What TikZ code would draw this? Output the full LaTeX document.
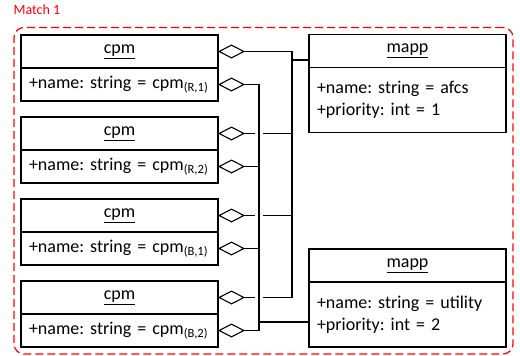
\documentclass[tikz,border=0pt]{standalone}
\usepackage{fontspec}
\setmainfont{Carlito}
\usetikzlibrary{positioning,arrows.meta,fit}
\frenchspacing

\begin{document}
\begin{tikzpicture}[x=1pt, y=-1pt, font=\fontsize{18}{22}\selectfont, node distance=16pt,
  ttl/.style={draw, line width=1.1pt, outer sep=0pt, inner sep=0pt, minimum width=197pt, minimum height=33pt},
  attr/.style={draw, line width=1.1pt, outer sep=0pt, inner xsep=8pt, inner ysep=0pt, text width=181pt, minimum height=33pt, align=left},
  agg/.style={{Diamond[open, length=27pt, width=14pt]}-, line width=1.1pt},
  agg2/.style={{Diamond[open, length=27pt, width=14pt]}-{Diamond[open, length=27pt, width=14pt]}, line width=1.1pt},
  wire/.style={line width=1.1pt},
  hop/.style={draw=white, line width=8pt},
  lbl/.style={text=red, font=\fontsize{14}{16}\selectfont}]
\useasboundingbox (0,0) rectangle (520,356);
% component boxes
\node[ttl] (c1t) at (119.5,51.5) {\underline{cpm}};
\node[attr, below=0pt of c1t] (c1a) {+name: string = cpm\textsubscript{(R,1)}};
\node[ttl, below=of c1a] (c2t) {\underline{cpm}};
\node[attr, below=0pt of c2t] (c2a) {+name: string = cpm\textsubscript{(R,2)}};
\node[ttl, below=of c2a] (c3t) {\underline{cpm}};
\node[attr, below=0pt of c3t] (c3a) {+name: string = cpm\textsubscript{(B,1)}};
\node[ttl, below=of c3a] (c4t) {\underline{cpm}};
\node[attr, below=0pt of c4t] (c4a) {+name: string = cpm\textsubscript{(B,2)}};
% mappings
\node[ttl] (m1t) at (407.5,51) {\underline{mapp}};
\node[attr, below=0pt of m1t, minimum height=65pt] (m1a) {+name: string = afcs\\+priority: int = 1};
\node[ttl] (m2t) at (407.5,265.5) {\underline{mapp}};
\node[attr, below=0pt of m2t, minimum height=65pt] (m2a) {+name: string = utility\\+priority: int = 2};
\coordinate (j1) at (292,60);
\coordinate (j2) at (259,322);
% title rows to first bus
\draw[agg2] (c1t.east) -- (c1t.east -| j1) -- (c4t.east -| j1) -- (c4t.east);
\draw[agg] (c2t.east) -- (c2t.east -| j1);
\draw[agg] (c3t.east) -- (c3t.east -| j1);
% attribute rows to second bus, with hops
\path[hop] (c1a.east -| j2) -- (c4a.east -| j2);
\draw[agg2] (c1a.east) -- (c1a.east -| j2) -- (c4a.east -| j2) -- (c4a.east);
\draw[agg] (c2a.east) -- (c2a.east -| j2);
\draw[agg] (c3a.east) -- (c3a.east -| j2);
\draw[wire] (j1) -- (j1 -| m1t.west);
\draw[wire] (j2) -- (j2 -| m2a.west);
% match frame
\node[draw=red, line width=1.2pt, dash pattern=on 8pt off 4pt, rounded corners=10pt, inner sep=7pt, fit=(c1t)(m1t)(c4a)(m2a)] (frame) {};
\node[lbl, anchor=base west, inner sep=0pt] (match) at ([yshift=12pt]frame.north west) {Match 1};
\end{tikzpicture}
\end{document}
